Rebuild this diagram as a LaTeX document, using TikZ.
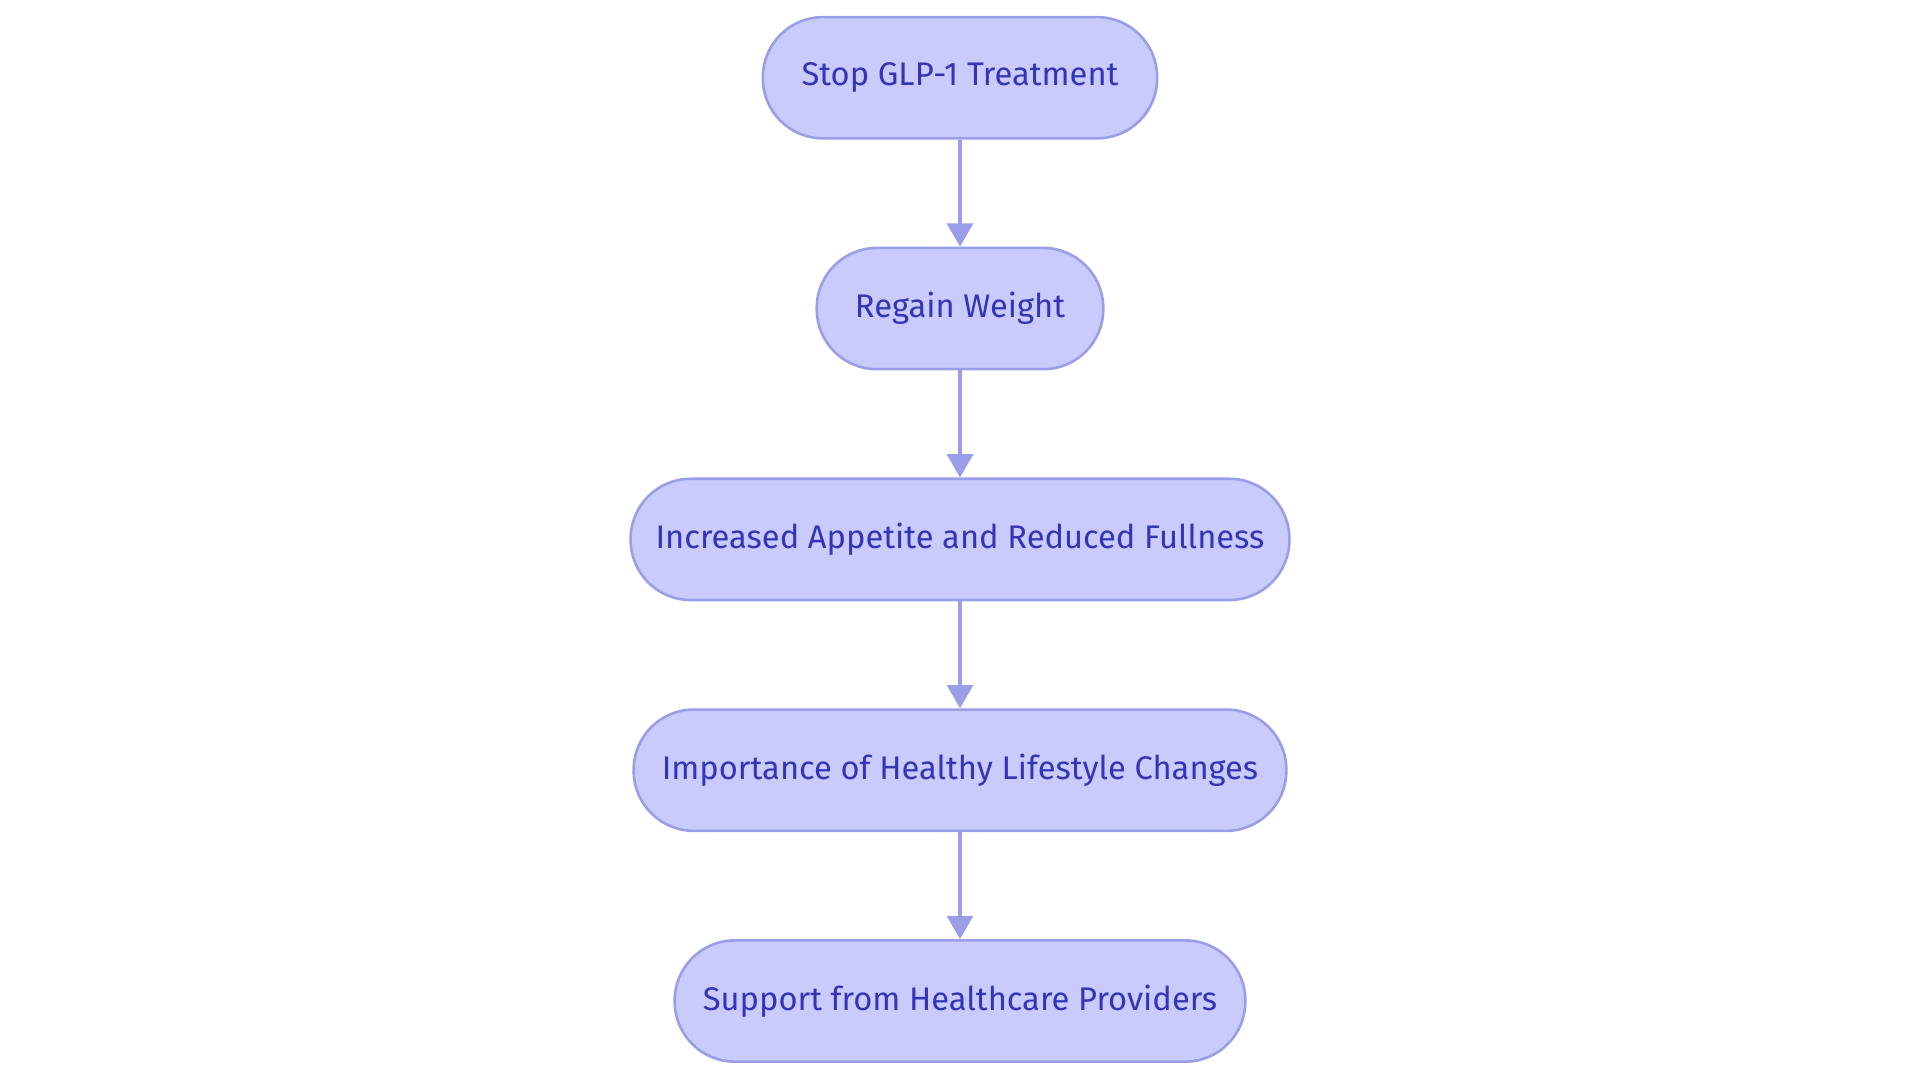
\documentclass[tikz,border=0pt]{standalone}
\usepackage{fontspec}
\setmainfont{Fira Sans}
\usetikzlibrary{arrows.meta}
\definecolor{boxfill}{HTML}{C8CBFC}
\definecolor{boxline}{HTML}{9A9DE8}
\definecolor{boxtext}{HTML}{3434B8}
\tikzset{
  stage/.style={draw=boxline, line width=0.6pt, fill=boxfill, rounded corners=0.49cm,
    minimum height=0.99cm, inner sep=0pt, text=boxtext, font=\fontsize{7.6}{9}\selectfont},
  link/.style={draw=boxline, line width=0.9pt, -{Triangle[width=0.21cm,length=0.19cm]}}
}
\begin{document}
\begin{tikzpicture}
  \useasboundingbox (0,0) rectangle (15.68,-8.84);
  \node[stage, minimum width=3.22cm] (stop) at (7.84,-0.635) {Stop GLP-1 Treatment};
  \node[stage, minimum width=2.34cm] (regain) at (7.84,-2.52) {Regain Weight};
  \node[stage, minimum width=5.38cm] (appetite) at (7.84,-4.405) {Increased Appetite and Reduced Fullness};
  \node[stage, minimum width=5.33cm] (lifestyle) at (7.84,-6.29) {Importance of Healthy Lifestyle Changes};
  \node[stage, minimum width=4.66cm] (support) at (7.84,-8.175) {Support from Healthcare Providers};
  \draw[link] (stop) -- (regain);
  \draw[link] (regain) -- (appetite);
  \draw[link] (appetite) -- (lifestyle);
  \draw[link] (lifestyle) -- (support);
\end{tikzpicture}
\end{document}
